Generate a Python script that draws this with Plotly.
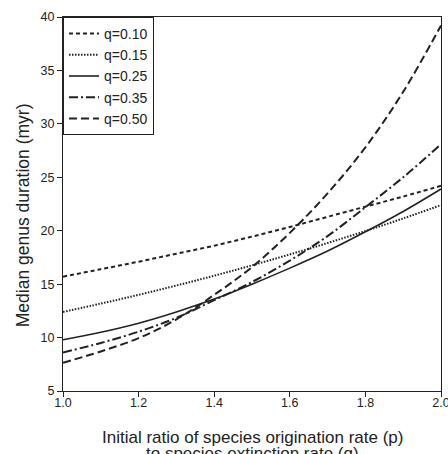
import plotly.graph_objects as go

p_ratio = [1.0, 1.1, 1.2, 1.3, 1.4, 1.5, 1.6, 1.7, 1.8, 1.9, 2.0]

q010 = [15.7, 16.4, 17.1, 17.85, 18.6, 19.45, 20.35, 21.3, 22.25, 23.2, 24.2]
q015 = [12.4, 13.18, 14.0, 14.87, 15.79, 16.76, 17.78, 18.85, 19.97, 21.15, 22.4]
q025 = [9.8, 10.5, 11.35, 12.4, 13.6, 15.0, 16.5, 18.1, 19.9, 21.8, 23.9]
q035 = [8.6, 9.5, 10.55, 11.85, 13.5, 15.2, 17.2, 19.5, 22.2, 25.0, 28.1]
q050 = [7.65, 8.7, 9.95, 11.7, 14.0, 16.6, 19.8, 23.5, 27.8, 33.0, 39.2]

series_names = ["q=0.10", "q=0.15", "q=0.25", "q=0.35", "q=0.50"]
series_vals = [q010, q015, q025, q035, q050]
dashes = ["4px,3px", "1.5px,1.5px", "solid", "9px,3px,2px,3px", "8px,4px"]
widths = [2, 2, 1.6, 2, 2]

x_ticks = [1.0, 1.2, 1.4, 1.6, 1.8, 2.0]
x_ticklabels = ["1.0", "1.2", "1.4", "1.6", "1.8", "2.0"]
y_ticks = [5, 10, 15, 20, 25, 30, 35, 40]

x_title_1 = "Initial ratio of species origination rate (p)"
x_title_2 = "to species extinction rate (q)"
y_title = "Median genus duration (myr)"

fig = go.Figure()
for name, vals, d, w in zip(series_names, series_vals, dashes, widths):
    fig.add_trace(go.Scatter(
        x=p_ratio, y=vals, mode="lines", name=name,
        line=dict(color="#222222", dash=d, width=w, shape="spline"),
    ))

font_family = "Liberation Sans, Arial, sans-serif"
fig.update_layout(
    template="none",
    width=448, height=454,
    margin=dict(l=63, r=7, t=17, b=63, autoexpand=False),
    paper_bgcolor="white", plot_bgcolor="white",
    font=dict(family=font_family, color="#222222", size=12),
    showlegend=True,
    legend=dict(
        x=0, y=1, xanchor="left", yanchor="top",
        bordercolor="#222222", borderwidth=1, bgcolor="white",
        font=dict(size=14, family=font_family, color="#222222"),
        tracegroupgap=0,
    ),
    xaxis=dict(
        range=[1.0, 2.0], tickvals=x_ticks, ticktext=x_ticklabels,
        showgrid=False, zeroline=False, automargin=False,
        showline=True, linecolor="#222222", linewidth=1, mirror=True,
        ticks="outside", ticklen=5, tickcolor="#222222",
        tickfont=dict(size=12.5), ticklabelstandoff=-5,
        ticklabeloverflow="allow",
    ),
    yaxis=dict(
        range=[5, 40], tickvals=y_ticks,
        showgrid=False, zeroline=False, automargin=False,
        showline=True, linecolor="#222222", linewidth=1, mirror=True,
        ticks="outside", ticklen=5, tickcolor="#222222",
        tickfont=dict(size=12.5), ticklabeloverflow="allow",
    ),
    annotations=[
        dict(text=x_title_1, xref="paper", yref="paper", x=0.5, y=0,
             xanchor="center", yanchor="middle", yshift=-46, showarrow=False,
             font=dict(size=17)),
        dict(text=x_title_2, xref="paper", yref="paper", x=0.5, y=0,
             xanchor="center", yanchor="middle", yshift=-62, showarrow=False,
             font=dict(size=17)),
        dict(text=y_title, xref="paper", yref="paper", x=0, y=0.47,
             xanchor="center", yanchor="middle", xshift=-40, textangle=-90,
             showarrow=False, font=dict(size=17.5)),
    ],
)

fig.write_html(
    "out.html",
    config={"displayModeBar": False},
    post_script="document.body.style.margin='0';document.body.style.overflow='hidden';",
)
